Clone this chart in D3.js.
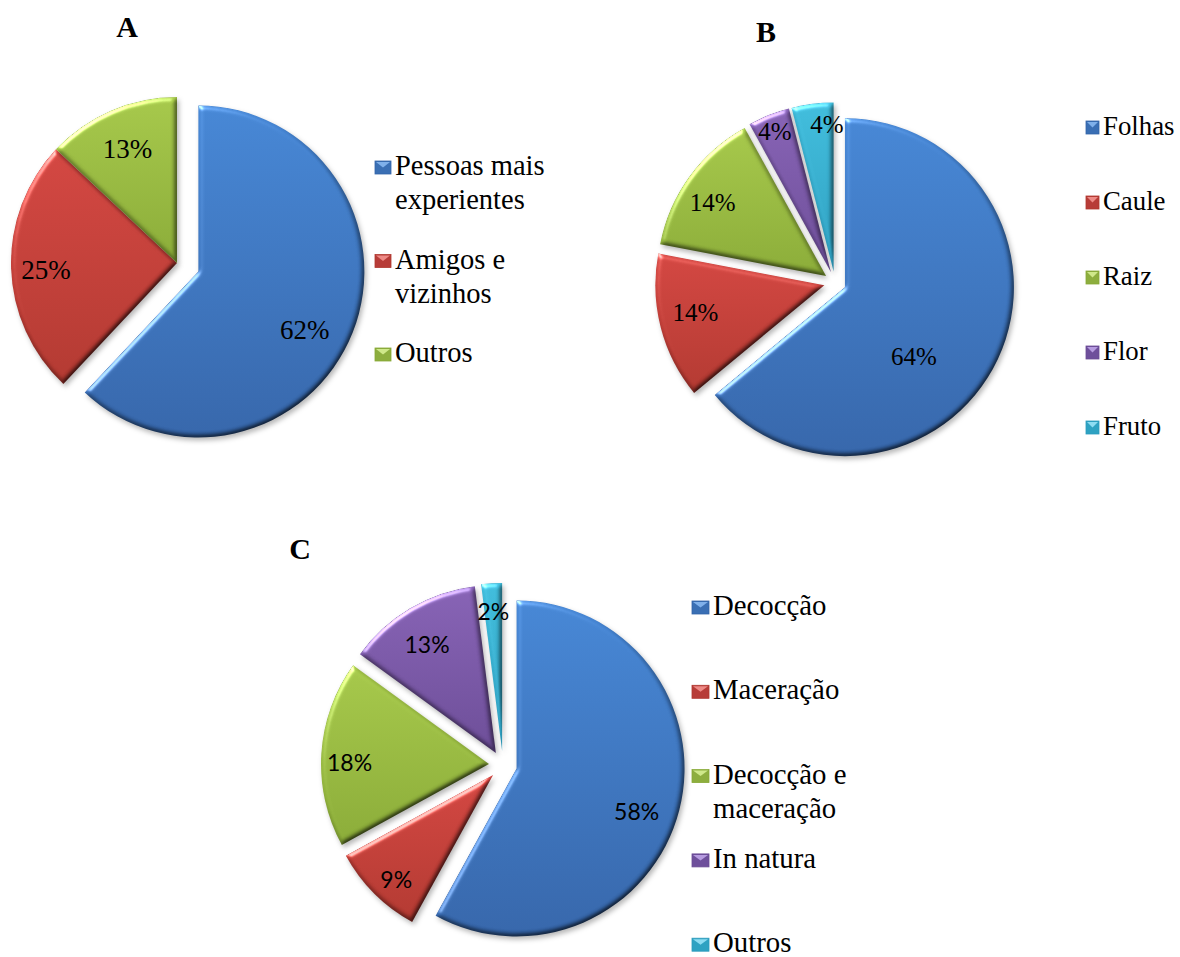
<!DOCTYPE html>
<html>
<head>
<meta charset="utf-8">
<script src="https://cdn.jsdelivr.net/npm/d3@7"></script>
<style>
  html, body { margin: 0; padding: 0; background: #ffffff; }
  svg { display: block; }
</style>
</head>
<body>
<script>
// ---- data ----
const titles = ["A", "B", "C"];

const catsA = ["Pessoas mais experientes", "Amigos e vizinhos", "Outros"];
const valsA = [62, 25, 13];

const catsB = ["Folhas", "Caule", "Raiz", "Flor", "Fruto"];
const valsB = [64, 14, 14, 4, 4];

const catsC = ["Decocção", "Maceração", "Decocção e maceração", "In natura", "Outros"];
const valsC = [58, 9, 18, 13, 2];

// ---- styling ----
const palette = [
  { top: "#4484d2", bottom: "#3464a8", key: "#3a6fb4", keyLight: "#7fb0ea" },
  { top: "#d0443f", bottom: "#b0372f", key: "#b73c38", keyLight: "#ee8a86" },
  { top: "#a3c548", bottom: "#88a936", key: "#8dae3e", keyLight: "#cfe88a" },
  { top: "#8460b2", bottom: "#6a4b95", key: "#6e4f9b", keyLight: "#b69be0" },
  { top: "#3ebad9", bottom: "#2c9cbd", key: "#2ea2c2", keyLight: "#8ddcf2" }
];

const serif = "'Liberation Serif', 'Times New Roman', serif";

const charts = [
  {
    title: titles[0], cats: catsA, vals: valsA,
    titleX: 127, titleY: 37,
    cx: 177, cy: 263, r: 166, explode: [23, 0, 0],
    labelFont: serif, labelSize: 27,
    labelPlace: [[0.73, 7], [0.79, -1], [0.75, 0]],
    legend: { x: 375, y: 175, step: 93.5, lineH: 34, wrap: 170, keyW: 16, keyH: 13, size: 28.5 }
  },
  {
    title: titles[1], cats: catsB, vals: valsB,
    titleX: 766, titleY: 42,
    cx: 835, cy: 282.5, r: 169, explode: [11, 11, 11, 11, 11],
    labelFont: serif, labelSize: 25,
    labelPlace: [[0.58, 20], [0.78, 2.6], [0.8, -3], [0.9, 0], [0.87, 4.6]],
    legend: { x: 1086, y: 135, step: 75, lineH: 34, wrap: 200, keyW: 13, keyH: 13, size: 26.8 }
  },
  {
    title: titles[2], cats: catsC, vals: valsC,
    titleX: 300, titleY: 559,
    cx: 503, cy: 765, r: 168, explode: [14, 14, 14, 14, 14],
    labelFont: "Lato, 'Open Sans', sans-serif", labelSize: 23,
    labelPlace: [[0.76, 5.5], [0.85, -2.3], [0.83, -3], [0.76, -2], [0.83, 0]],
    legend: { x: 692, y: 615, step: 84.3, lineH: 34, wrap: 145, keyW: 17, keyH: 13, size: 28.8 }
  }
];

const W = 1180, H = 957;
const svg = d3.select("body").append("svg")
  .attr("width", W).attr("height", H)
  .attr("viewBox", `0 0 ${W} ${H}`);

const defs = svg.append("defs");

// vertical shading for each slice colour
palette.forEach((p, i) => {
  const lg = defs.append("linearGradient")
    .attr("id", `sliceGrad${i}`)
    .attr("x1", 0).attr("y1", 0).attr("x2", 0).attr("y2", 1);
  lg.append("stop").attr("offset", "0%").attr("stop-color", p.top);
  lg.append("stop").attr("offset", "100%").attr("stop-color", p.bottom);
});

// bevel + soft shadow for the slices
const f = defs.append("filter")
  .attr("id", "bevel")
  .attr("x", "-60%").attr("y", "-60%").attr("width", "220%").attr("height", "220%")
  .attr("color-interpolation-filters", "sRGB");
f.append("feGaussianBlur").attr("in", "SourceAlpha").attr("stdDeviation", 2.5).attr("result", "blur");
const diff = f.append("feDiffuseLighting")
  .attr("in", "blur").attr("surfaceScale", 2.5).attr("diffuseConstant", 1.22)
  .attr("lighting-color", "#ffffff").attr("result", "diff");
diff.append("feDistantLight").attr("azimuth", 235).attr("elevation", 55);
f.append("feComposite").attr("in", "SourceGraphic").attr("in2", "diff")
  .attr("operator", "arithmetic").attr("k1", 1).attr("k2", 0).attr("k3", 0).attr("k4", 0)
  .attr("result", "lit");
const spec = f.append("feSpecularLighting")
  .attr("in", "blur").attr("surfaceScale", 2.5).attr("specularConstant", 0.7)
  .attr("specularExponent", 25).attr("lighting-color", "#ffffff").attr("result", "spec");
spec.append("feDistantLight").attr("azimuth", 235).attr("elevation", 30);
f.append("feComposite").attr("in", "spec").attr("in2", "SourceAlpha")
  .attr("operator", "in").attr("result", "specIn");
f.append("feComposite").attr("in", "lit").attr("in2", "specIn")
  .attr("operator", "arithmetic").attr("k1", 0).attr("k2", 1).attr("k3", 0.8).attr("k4", 0)
  .attr("result", "shaded");
f.append("feGaussianBlur").attr("in", "SourceAlpha").attr("stdDeviation", 2.5).attr("result", "sblur");
f.append("feOffset").attr("in", "sblur").attr("dx", 2).attr("dy", 3).attr("result", "soff");
f.append("feFlood").attr("flood-color", "#000000").attr("flood-opacity", 0.28).attr("result", "scol");
f.append("feComposite").attr("in", "scol").attr("in2", "soff").attr("operator", "in").attr("result", "shadow");
const merge = f.append("feMerge");
merge.append("feMergeNode").attr("in", "shadow");
merge.append("feMergeNode").attr("in", "shaded");

// wrap legend text into tspans no wider than maxW
function wrapText(textSel, maxW, lineH) {
  textSel.each(function () {
    const t = d3.select(this);
    const words = t.text().split(/\s+/);
    const x = t.attr("x");
    t.text(null);
    let line = [];
    let tspan = t.append("tspan").attr("x", x).attr("dy", 0);
    words.forEach(w => {
      line.push(w);
      tspan.text(line.join(" "));
      if (tspan.node().getComputedTextLength() > maxW && line.length > 1) {
        line.pop();
        tspan.text(line.join(" "));
        line = [w];
        tspan = t.append("tspan").attr("x", x).attr("dy", lineH).text(w);
      }
    });
  });
}

charts.forEach(ch => {
  const g = svg.append("g").attr("class", "chart");

  // title
  g.append("text")
    .attr("x", ch.titleX).attr("y", ch.titleY)
    .attr("text-anchor", "middle")
    .attr("font-family", serif)
    .attr("font-weight", "bold")
    .attr("font-size", 30)
    .attr("fill", "#000")
    .text(ch.title);

  const pie = d3.pie().sort(null).value(d => d).startAngle(0).endAngle(2 * Math.PI);
  const arcs = pie(ch.vals);
  const arc = d3.arc().innerRadius(0).outerRadius(ch.r);

  const offset = d => {
    const m = (d.startAngle + d.endAngle) / 2;
    const e = ch.explode[d.index];
    return [Math.sin(m) * e, -Math.cos(m) * e];
  };

  const pg = g.append("g").attr("transform", `translate(${ch.cx},${ch.cy})`);

  pg.selectAll("path.slice")
    .data(arcs)
    .join("path")
    .attr("class", "slice")
    .attr("d", arc)
    .attr("transform", d => `translate(${offset(d)[0]},${offset(d)[1]})`)
    .attr("fill", d => `url(#sliceGrad${d.index})`)
    .attr("filter", "url(#bevel)");

  // value labels
  pg.selectAll("text.val")
    .data(arcs)
    .join("text")
    .attr("class", "val")
    .attr("transform", d => {
      const [ox, oy] = offset(d);
      const [fr, nudge] = ch.labelPlace[d.index];
      const m = (d.startAngle + d.endAngle) / 2 + nudge * Math.PI / 180;
      const rr = fr * ch.r;
      return `translate(${ox + Math.sin(m) * rr},${oy - Math.cos(m) * rr})`;
    })
    .attr("text-anchor", "middle")
    .attr("dy", "0.35em")
    .attr("font-family", ch.labelFont)
    .attr("font-size", ch.labelSize)
    .attr("fill", "#000")
    .text(d => `${d.data}%`);

  // legend
  const L = ch.legend;
  const lg = g.append("g").attr("class", "legend");
  const items = lg.selectAll("g.item")
    .data(ch.cats)
    .join("g")
    .attr("class", "item")
    .attr("transform", (d, i) => `translate(${L.x},${L.y + i * L.step})`);

  items.append("rect")
    .attr("x", 0).attr("y", -L.keyH - 1)
    .attr("width", L.keyW).attr("height", L.keyH)
    .attr("fill", (d, i) => palette[i].key)
    .attr("stroke", (d, i) => palette[i].bottom)
    .attr("stroke-width", 0.8);
  items.append("path")
    .attr("d", `M1,${-L.keyH} L${L.keyW - 1},${-L.keyH} L${L.keyW / 2},${-L.keyH / 2 - 1} Z`)
    .attr("fill", (d, i) => palette[i].keyLight);

  items.append("text")
    .attr("x", L.keyW + 4).attr("y", 0)
    .attr("font-family", serif)
    .attr("font-size", L.size)
    .attr("fill", "#000")
    .text(d => d)
    .call(wrapText, L.wrap, L.lineH);
});
</script>
</body>
</html>
